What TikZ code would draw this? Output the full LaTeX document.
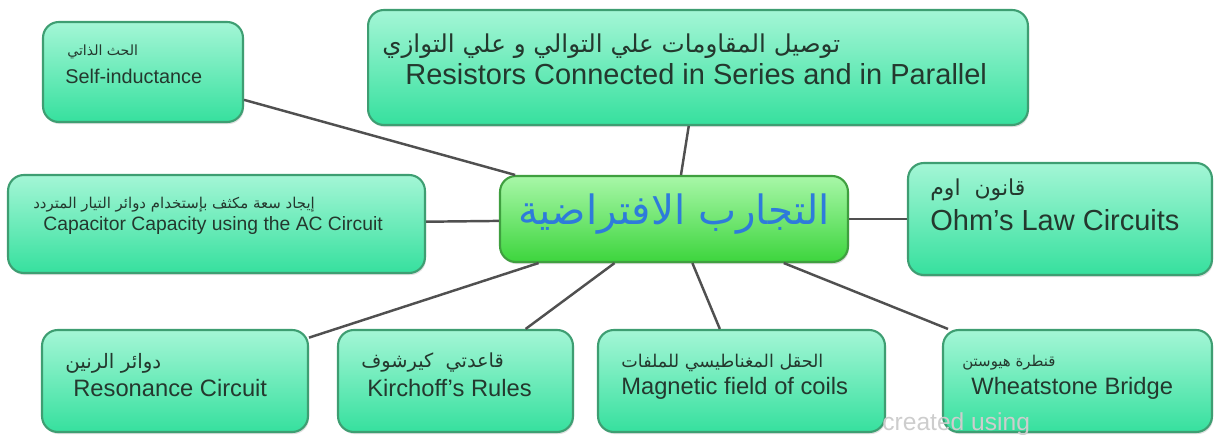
\documentclass[tikz,border=0pt]{standalone}
\usepackage{fontspec}
\setmainfont{Liberation Sans}
\newfontfamily\arabicfont[Script=Arabic]{DejaVu Sans}
\TeXXeTstate=1
\usetikzlibrary{shadows, backgrounds}
\definecolor{mtop}{HTML}{A4F6D6}
\definecolor{mbot}{HTML}{36E09E}
\definecolor{medge}{HTML}{3E9E72}
\definecolor{htop}{HTML}{A8F7A8}
\definecolor{hbot}{HTML}{3DD53D}
\definecolor{hedge}{HTML}{3F9F3F}
\definecolor{mtext}{HTML}{24382E}
\definecolor{mblue}{HTML}{2E7BDB}
\definecolor{mline}{HTML}{505050}
\definecolor{mwater}{HTML}{CDCDCD}
\newcommand{\artext}[1]{{\arabicfont\beginR #1\endR}}
\tikzset{
  tbox/.style={draw=medge, line width=1.2pt, top color=mtop, bottom color=mbot,
               rounded corners=9pt, inner sep=0pt,
               drop shadow={opacity=0.25, shadow xshift=0.6pt, shadow yshift=-1.2pt}},
  hbox/.style={draw=hedge, line width=1.2pt, top color=htop, bottom color=hbot,
               rounded corners=9pt, inner sep=0pt,
               drop shadow={opacity=0.3, shadow xshift=0.6pt, shadow yshift=-1.2pt}},
  entxt/.style={text=mtext, anchor=west, inner sep=0pt},
  artxt/.style={text=mtext, anchor=west, inner sep=0pt},
  link/.style={mline, line width=1.4pt},
  small/.style={font=\fontsize{11.3}{13}\selectfont},
  mid/.style={font=\fontsize{13.5}{16}\selectfont},
  big/.style={font=\fontsize{16.5}{19}\selectfont},
}

\begin{document}
\begin{tikzpicture}[x=0.02cm, y=-0.02cm]
  \useasboundingbox (0,0) rectangle (1222,435);

  %% Boxes
  \node[hbox, minimum width=6.96cm, minimum height=1.72cm] (hub) at (674,219) {};
  \node[tbox, minimum width=4cm, minimum height=2cm] (self) at (143,72) {};
  \node[tbox, minimum width=13.2cm, minimum height=2.3cm] (series) at (698,67.5) {};
  \node[tbox, minimum width=8.34cm, minimum height=1.96cm] (cap) at (216.5,224) {};
  \node[tbox, minimum width=6.08cm, minimum height=2.24cm] (ohm) at (1060,219) {};
  \node[tbox, minimum width=5.32cm, minimum height=2.04cm] (reson) at (175,381) {};
  \node[tbox, minimum width=4.7cm, minimum height=2.04cm] (kirch) at (455.5,381) {};
  \node[tbox, minimum width=5.74cm, minimum height=2.04cm] (magn) at (741.5,381) {};
  \node[tbox, minimum width=5.38cm, minimum height=2.04cm] (wheat) at (1077.5,381) {};

  %% Links from the hub
  \foreach \n in {self, series, cap, ohm, reson, kirch, magn, wheat}{
    \draw[link] (hub) -- (\n);
  }

  %% Hub title
  \node[text=mblue, inner sep=0pt, font=\fontsize{23}{26}\selectfont] (hubtxt) at (674,214)
    {\artext{التجارب الافتراضية}};

  %% Labels
  \node[artxt, font=\fontsize{8}{10}\selectfont] (selfar) at (67,52) {\artext{الحث الذاتي}};
  \node[entxt, small] (selfen) at (65,76) {Self-inductance};

  \node[artxt, font=\fontsize{14}{16}\selectfont] (seriesar) at (382,46)
    {\artext{توصيل المقاومات علي التوالي و علي التوازي}};
  \node[entxt, big] (seriesen) at (405,74) {Resistors Connected in Series and in Parallel};

  \node[artxt, font=\fontsize{8.5}{10}\selectfont] (capar) at (33,205)
    {\artext{إيجاد سعة مكثف بإستخدام دوائر التيار المتردد}};
  \node[entxt, font=\fontsize{11}{13}\selectfont] (capen) at (43,226)
    {Capacitor Capacity using the AC Circuit};

  \node[artxt, font=\fontsize{12.5}{15}\selectfont] (ohmar) at (930,190) {\artext{قانون~~اوم}};
  \node[entxt, big] (ohmen) at (930,220) {Ohm’s Law Circuits};

  \node[artxt, small] (resonar) at (65,363) {\artext{دوائر الرنين}};
  \node[entxt, mid] (resonen) at (73,388) {Resonance Circuit};

  \node[artxt, font=\fontsize{11}{13}\selectfont] (kirchar) at (361,363) {\artext{قاعدتي~~كيرشوف}};
  \node[entxt, mid] (kirchen) at (367,388) {Kirchoff's Rules};

  \node[artxt, font=\fontsize{10}{12}\selectfont] (magnar) at (621,363) {\artext{الحقل المغناطيسي للملفات}};
  \node[entxt, mid] (magnen) at (621,388) {Magnetic field of coils};

  \node[artxt, font=\fontsize{8.5}{10}\selectfont] (wheatar) at (962,363) {\artext{قنطرة هيوستن}};
  \node[entxt, mid] (wheaten) at (971,388) {Wheatstone Bridge};

  %% Watermark
  \node[text=mwater, anchor=west, inner sep=0pt, font=\fontsize{14}{16}\selectfont] (mark) at (882,424)
    {created using};

\end{tikzpicture}
\end{document}
